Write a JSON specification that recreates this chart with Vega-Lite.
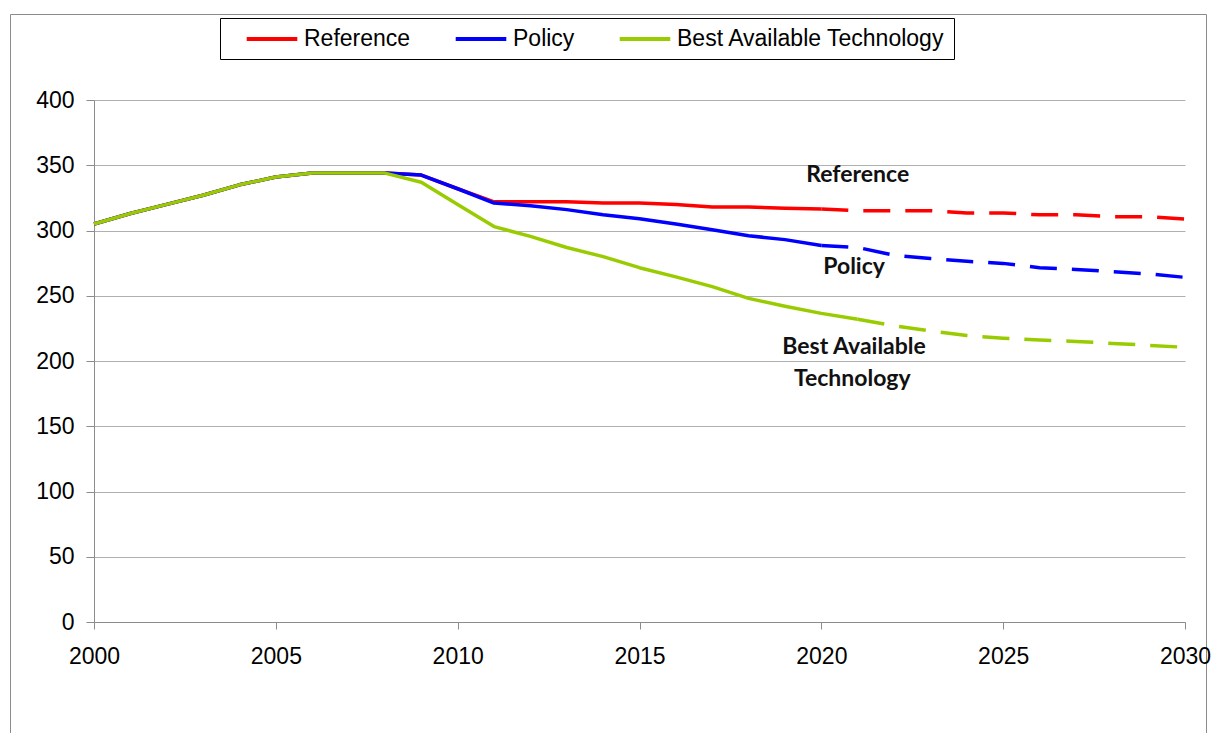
{
  "$schema": "https://vega.github.io/schema/vega-lite/v6.json",
  "autosize": "none",
  "width": 1196,
  "height": 719,
  "padding": {"left": 10, "top": 14, "right": 7, "bottom": 0},
  "background": "white",
  "config": {
    "view": {"stroke": "#8c8c8c", "strokeWidth": 1, "fill": "white"},
    "font": "Liberation Sans",
    "axis": {
      "labelFont": "Liberation Sans",
      "labelFontSize": 23,
      "labelColor": "#000000",
      "domainColor": "#8c8c8c",
      "tickColor": "#8c8c8c",
      "gridColor": "#b0b0b0",
      "title": null
    }
  },
  "datasets": {
    "series": [
      {"year": 2000, "series": "Reference", "value": 305},
      {"year": 2001, "series": "Reference", "value": 313},
      {"year": 2002, "series": "Reference", "value": 320},
      {"year": 2003, "series": "Reference", "value": 327},
      {"year": 2004, "series": "Reference", "value": 335},
      {"year": 2005, "series": "Reference", "value": 341},
      {"year": 2006, "series": "Reference", "value": 344},
      {"year": 2007, "series": "Reference", "value": 344},
      {"year": 2008, "series": "Reference", "value": 344},
      {"year": 2009, "series": "Reference", "value": 342.5},
      {"year": 2010, "series": "Reference", "value": 332},
      {"year": 2011, "series": "Reference", "value": 322},
      {"year": 2012, "series": "Reference", "value": 322},
      {"year": 2013, "series": "Reference", "value": 322},
      {"year": 2014, "series": "Reference", "value": 321},
      {"year": 2015, "series": "Reference", "value": 321},
      {"year": 2016, "series": "Reference", "value": 320},
      {"year": 2017, "series": "Reference", "value": 318},
      {"year": 2018, "series": "Reference", "value": 318},
      {"year": 2019, "series": "Reference", "value": 317},
      {"year": 2020, "series": "Reference", "value": 316.5},
      {"year": 2021, "series": "Reference", "value": 315.2},
      {"year": 2022, "series": "Reference", "value": 315.2},
      {"year": 2023, "series": "Reference", "value": 315.2},
      {"year": 2024, "series": "Reference", "value": 313.5},
      {"year": 2025, "series": "Reference", "value": 313.5},
      {"year": 2026, "series": "Reference", "value": 312},
      {"year": 2027, "series": "Reference", "value": 312},
      {"year": 2028, "series": "Reference", "value": 310.6},
      {"year": 2029, "series": "Reference", "value": 310.6},
      {"year": 2030, "series": "Reference", "value": 308.8},
      {"year": 2000, "series": "Policy", "value": 305},
      {"year": 2001, "series": "Policy", "value": 313},
      {"year": 2002, "series": "Policy", "value": 320},
      {"year": 2003, "series": "Policy", "value": 327},
      {"year": 2004, "series": "Policy", "value": 335},
      {"year": 2005, "series": "Policy", "value": 341},
      {"year": 2006, "series": "Policy", "value": 344},
      {"year": 2007, "series": "Policy", "value": 344},
      {"year": 2008, "series": "Policy", "value": 344},
      {"year": 2009, "series": "Policy", "value": 342.5},
      {"year": 2010, "series": "Policy", "value": 332},
      {"year": 2011, "series": "Policy", "value": 321},
      {"year": 2012, "series": "Policy", "value": 319},
      {"year": 2013, "series": "Policy", "value": 316},
      {"year": 2014, "series": "Policy", "value": 312},
      {"year": 2015, "series": "Policy", "value": 309},
      {"year": 2016, "series": "Policy", "value": 305},
      {"year": 2017, "series": "Policy", "value": 300.5},
      {"year": 2018, "series": "Policy", "value": 296},
      {"year": 2019, "series": "Policy", "value": 293},
      {"year": 2020, "series": "Policy", "value": 288.5},
      {"year": 2021, "series": "Policy", "value": 287},
      {"year": 2022, "series": "Policy", "value": 281},
      {"year": 2023, "series": "Policy", "value": 278.5},
      {"year": 2024, "series": "Policy", "value": 276.4},
      {"year": 2025, "series": "Policy", "value": 274.8},
      {"year": 2026, "series": "Policy", "value": 271.5},
      {"year": 2027, "series": "Policy", "value": 270.2},
      {"year": 2028, "series": "Policy", "value": 268.4},
      {"year": 2029, "series": "Policy", "value": 266.7},
      {"year": 2030, "series": "Policy", "value": 264.1},
      {"year": 2000, "series": "Best Available Technology", "value": 305},
      {"year": 2001, "series": "Best Available Technology", "value": 313},
      {"year": 2002, "series": "Best Available Technology", "value": 320},
      {"year": 2003, "series": "Best Available Technology", "value": 327},
      {"year": 2004, "series": "Best Available Technology", "value": 335},
      {"year": 2005, "series": "Best Available Technology", "value": 341},
      {"year": 2006, "series": "Best Available Technology", "value": 344},
      {"year": 2007, "series": "Best Available Technology", "value": 344},
      {"year": 2008, "series": "Best Available Technology", "value": 344},
      {"year": 2009, "series": "Best Available Technology", "value": 337},
      {"year": 2010, "series": "Best Available Technology", "value": 320},
      {"year": 2011, "series": "Best Available Technology", "value": 303},
      {"year": 2012, "series": "Best Available Technology", "value": 295.5},
      {"year": 2013, "series": "Best Available Technology", "value": 287},
      {"year": 2014, "series": "Best Available Technology", "value": 280},
      {"year": 2015, "series": "Best Available Technology", "value": 271.5},
      {"year": 2016, "series": "Best Available Technology", "value": 264.5},
      {"year": 2017, "series": "Best Available Technology", "value": 257},
      {"year": 2018, "series": "Best Available Technology", "value": 248},
      {"year": 2019, "series": "Best Available Technology", "value": 242},
      {"year": 2020, "series": "Best Available Technology", "value": 236.5},
      {"year": 2021, "series": "Best Available Technology", "value": 232},
      {"year": 2022, "series": "Best Available Technology", "value": 227},
      {"year": 2023, "series": "Best Available Technology", "value": 223},
      {"year": 2024, "series": "Best Available Technology", "value": 219.5},
      {"year": 2025, "series": "Best Available Technology", "value": 217.5},
      {"year": 2026, "series": "Best Available Technology", "value": 216},
      {"year": 2027, "series": "Best Available Technology", "value": 215},
      {"year": 2028, "series": "Best Available Technology", "value": 213.5},
      {"year": 2029, "series": "Best Available Technology", "value": 212},
      {"year": 2030, "series": "Best Available Technology", "value": 210.5}
    ],
    "labels": [
      {"label": "Reference", "year": 2021.0, "value": 342.5},
      {"label": "Policy", "year": 2020.9, "value": 272.3},
      {"label": "Best Available", "year": 2020.9, "value": 211},
      {"label": "Technology", "year": 2020.85, "value": 186.2}
    ]
  },
  "layer": [
    {
      "data": {"name": "series"},
      "transform": [
        {"filter": "datum.year <= (datum.series == 'Best Available Technology' ? 2021 : 2020)"}
      ],
      "mark": {"type": "line", "strokeWidth": 3.5, "strokeCap": "butt", "strokeJoin": "round"},
      "encoding": {
        "x": {
          "field": "year", "type": "quantitative",
          "scale": {"domain": [2000, 2030], "range": [84, 1175], "nice": false, "zero": false},
          "axis": {
            "orient": "bottom", "offset": -111, "values": [2000, 2005, 2010, 2015, 2020, 2025, 2030],
            "format": "d", "grid": false, "tickSize": 7, "labelPadding": 16, "labelFlush": false, "labelOverlap": false
          }
        },
        "y": {
          "field": "value", "type": "quantitative",
          "scale": {"domain": [0, 400], "range": [608, 86], "nice": false},
          "axis": {
            "orient": "left", "offset": -84, "values": [0, 50, 100, 150, 200, 250, 300, 350, 400],
            "grid": true, "tickSize": 8, "labelPadding": 12
          }
        },
        "color": {
          "field": "series", "type": "nominal",
          "scale": {"domain": ["Reference", "Policy", "Best Available Technology"], "range": ["#FF0000", "#0000FF", "#99CC00"]},
          "legend": {
            "orient": "none", "legendX": 210, "legendY": 4, "direction": "horizontal", "title": null,
            "symbolType": "M-2.3,0H2.3", "symbolSize": 484, "symbolStrokeWidth": 4, "symbolOffset": 31,
            "labelFont": "Liberation Sans", "labelFontSize": 23, "labelColor": "#000000", "labelOffset": 19, "labelLimit": 400,
            "columnPadding": 26, "padding": 8, "strokeColor": "#000000", "fillColor": "#ffffff"
          }
        }
      }
    },
    {
      "data": {"name": "series"},
      "transform": [
        {"filter": "datum.year >= (datum.series == 'Best Available Technology' ? 2021 : 2020)"}
      ],
      "mark": {"type": "line", "strokeWidth": 3.5, "strokeDash": [27, 15], "strokeCap": "butt"},
      "encoding": {
        "x": {"field": "year", "type": "quantitative"},
        "y": {"field": "value", "type": "quantitative"},
        "color": {"field": "series", "type": "nominal", "legend": null}
      }
    },
    {
      "data": {"name": "labels"},
      "mark": {"type": "text", "font": "Lato", "fontWeight": "bold", "fontSize": 23, "align": "center", "baseline": "middle", "color": "#111111"},
      "encoding": {
        "x": {"field": "year", "type": "quantitative"},
        "y": {"field": "value", "type": "quantitative"},
        "text": {"field": "label"}
      }
    }
  ]
}
